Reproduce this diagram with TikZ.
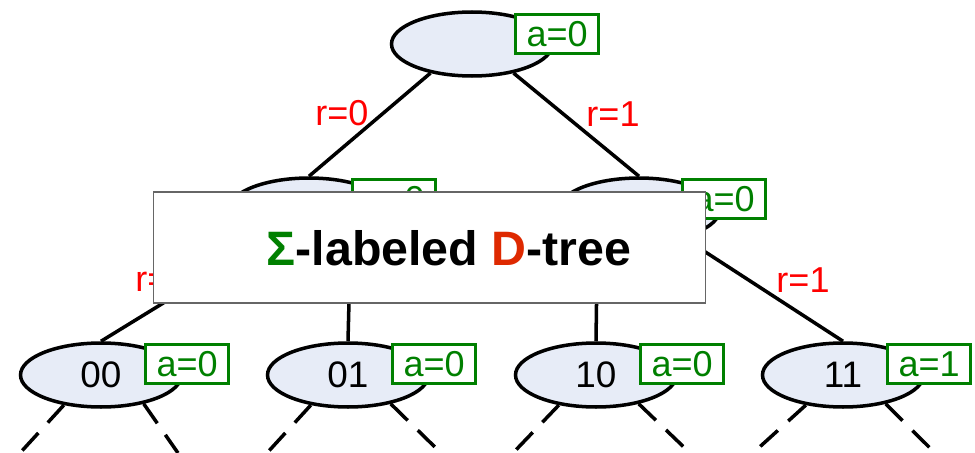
\documentclass[tikz,border=0pt]{standalone}
\usepackage{fontspec}
\setmainfont{Liberation Sans}
\usetikzlibrary{shapes.geometric}
\definecolor{agreen}{RGB}{0,128,0}
\definecolor{ellfill}{RGB}{231,236,247}
\definecolor{dred}{RGB}{222,41,0}
\tikzset{
  tnode/.style={ellipse,draw,line width=2pt,fill=ellfill,minimum width=3.22cm,minimum height=1.28cm,inner sep=0pt,font=\fontsize{21}{21}\selectfont},
  abox/.style={draw=agreen,line width=1.8pt,fill=white,text=agreen,minimum width=1.66cm,minimum height=0.78cm,inner sep=0pt,anchor=north west,font=\fontsize{20.5}{20.5}\selectfont},
  rlab/.style={text=red,font=\fontsize{20.5}{20.5}\selectfont},
  tedge/.style={line width=2pt},
  dedge/.style={line width=2pt,dash pattern=on 13.5pt off 8pt}
}
\begin{document}
\begin{tikzpicture}[x=0.02cm,y=-0.02cm]
\useasboundingbox (0,0) rectangle (975,453);
\node[tnode] (root) at (472,44) {};
\node[tnode] (n0) at (309,210) {};
\node[tnode] (n1) at (639,210) {};
\node[tnode] (n00) at (101,375) {00};
\node[tnode] (n01) at (348,375) {01};
\node[tnode] (n10) at (596,375) {10};
\node[tnode] (n11) at (843,375) {11};
\coordinate (e00l) at (20,453); \coordinate (e00r) at (178,453);
\coordinate (e01l) at (267,453); \coordinate (e01r) at (441,453);
\coordinate (e10l) at (513,453); \coordinate (e10r) at (690,453);
\coordinate (e11l) at (753,453); \coordinate (e11r) at (935,453);
\draw[tedge] (root.215) -- (n0.north) (root.325) -- (n1.north);
\draw[tedge] (n0.215) -- (n00.north) (n0.325) -- (n01.north);
\draw[tedge] (n1.215) -- (n10.north) (n1.328) -- (n11.north);
\draw[dedge] (n00.219) -- (e00l) (n00.326) -- (e00r)
    (n01.219) -- (e01l) (n01.326) -- (e01r)
    (n10.219) -- (e10l) (n10.326) -- (e10r)
    (n11.219) -- (e11l) (n11.326) -- (e11r);
\node[abox] (aroot) at (514,13) {a=0};
\node[abox] (a0) at (351,178) {a=0};
\node[abox] (a1) at (681,178) {a=0};
\node[abox] (a00) at (144,343) {a=0};
\node[abox] (a01) at (391,343) {a=0};
\node[abox] (a10) at (639,343) {a=0};
\node[abox] (a11) at (886,343) {a=1};
\node[rlab] (r0) at (342,113) {r=0};
\node[rlab] (r1) at (613,114) {r=1};
\node[rlab] (r00) at (162,279) {r=0};
\node[rlab] (r11) at (803,280) {r=1};
\node[draw=black!60,line width=0.6pt,fill=white,minimum width=11.06cm,minimum height=2.22cm,inner sep=0pt] (title) at (429.5,247.5) {};
\node[font=\bfseries\fontsize{27.5}{27.5}\selectfont] (ttext) at (449,248) {\textcolor{agreen}{Σ}-labeled \textcolor{dred}{D}-tree};
\end{tikzpicture}
\end{document}
